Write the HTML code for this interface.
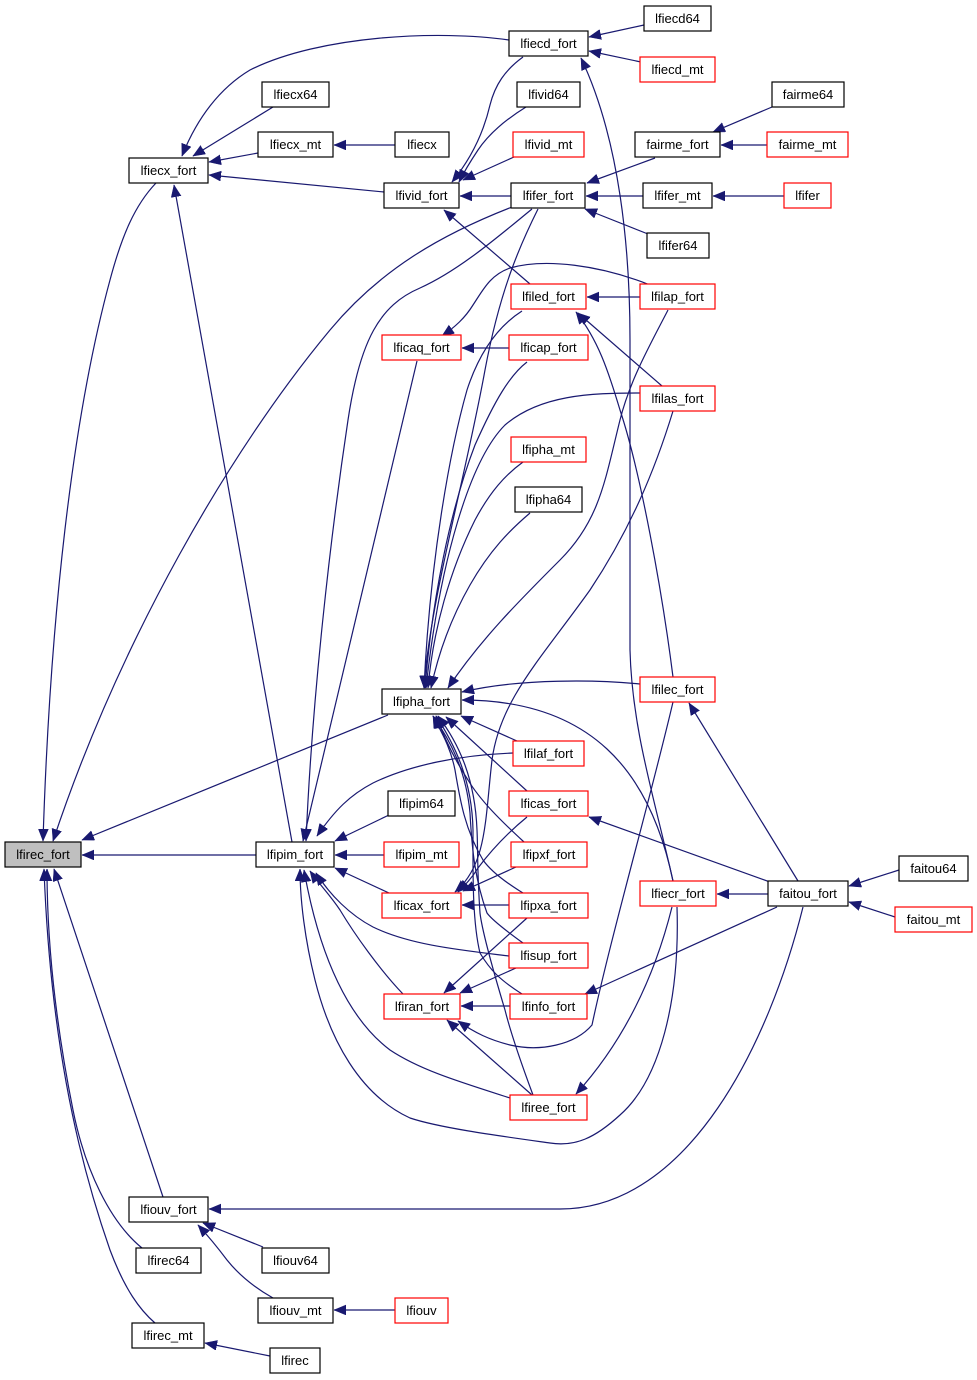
<!DOCTYPE html>
<html>
<head>
<meta charset="utf-8">
<style>
html,body{margin:0;padding:0;background:#fff;}
svg{display:block;}
text{font-family:"Liberation Sans",Arial,sans-serif;font-size:13px;fill:#000;}
.e{fill:none;stroke:#191970;stroke-width:1.2;marker-end:url(#a);}
.n{fill:#fff;stroke:#000;stroke-width:1.2;}
.r{fill:#fff;stroke:#ff0000;stroke-width:1.2;}
</style>
</head>
<body>
<svg width="977" height="1380" viewBox="0 0 977 1380" xmlns="http://www.w3.org/2000/svg">
<defs>
<marker id="a" markerUnits="userSpaceOnUse" markerWidth="14" markerHeight="12" refX="12" refY="5" orient="auto">
<path d="M0,0 L12,5 L0,10 z" fill="#191970" stroke="#191970" stroke-width="0.5"/>
</marker>
</defs>

<!-- edges -->
<path class="e" d="M509,40 C440,30 320,35 250,70 C220,88 197,118 182,156"/>
<path class="e" d="M273,107 L193,156"/>
<path class="e" d="M258,153 L209,162"/>
<path class="e" d="M395,145 L334,145"/>
<path class="e" d="M384,192 L209,175"/>
<path class="e" d="M156,183 C135,205 122,235 110,280 C72,420 50,620 43,841"/>
<path class="e" d="M512,207 C440,235 380,270 330,330 C230,450 120,640 53,841"/>
<path class="e" d="M388,715 L82,840"/>
<path class="e" d="M256,855 L82,855"/>
<path class="e" d="M163,1197 L54,869"/>
<path class="e" d="M142,1248 C110,1222 85,1170 73,1110 C55,1020 47,940 47,869"/>
<path class="e" d="M155,1323 C140,1310 125,1290 110,1250 C75,1150 50,1030 44,869"/>
<path class="e" d="M803,907 C770,1040 690,1209 560,1209 L209,1209"/>
<path class="e" d="M263,1247 L203,1223"/>
<path class="e" d="M273,1298 C250,1285 235,1270 227,1260 C218,1248 210,1238 198,1225"/>
<path class="e" d="M395,1310 L334,1310"/>
<path class="e" d="M270,1356 L205,1343"/>

<path class="e" d="M644,25 L589,37"/>
<path class="e" d="M641,62 L589,51"/>
<path class="e" d="M673,881 C655,800 632,730 630,650 L630,340 C630,250 620,140 581,58"/>
<path class="e" d="M523,57 C505,70 495,85 490,105 C483,135 470,160 452,182"/>
<path class="e" d="M526,107 C505,120 488,135 478,150 C470,162 465,170 459,182"/>
<path class="e" d="M514,157 L463,180"/>
<path class="e" d="M511,196 L460,196"/>
<path class="e" d="M530,284 L444,210"/>
<path class="e" d="M655,158 L587,183"/>
<path class="e" d="M772,107 L713,132"/>
<path class="e" d="M767,145 L721,145"/>
<path class="e" d="M643,196 L586,196"/>
<path class="e" d="M784,196 L713,196"/>
<path class="e" d="M648,234 L585,209"/>
<path class="e" d="M640,297 L587,297"/>

<path class="e" d="M532,209 C500,235 460,270 420,288 C380,305 360,340 348,420 C330,540 312,700 306,841"/>
<path class="e" d="M538,209 C520,245 500,290 485,370 C465,480 430,600 424,688"/>
<path class="e" d="M650,285 C600,265 545,258 510,268 C490,275 483,290 473,305 C465,318 455,327 442,336"/>
<path class="e" d="M509,348 L462,348"/>
<path class="e" d="M417,361 L303,841"/>
<path class="e" d="M522,311 C500,325 480,350 467,390 C450,450 430,560 424,688"/>
<path class="e" d="M527,362 C510,375 495,400 475,445 C450,510 432,600 425,688"/>
<path class="e" d="M640,393 C590,393 540,395 505,425 C470,460 440,560 426,688"/>
<path class="e" d="M523,462 C505,475 490,492 475,520 C450,570 433,630 428,688"/>
<path class="e" d="M530,513 C510,530 490,550 470,585 C450,620 438,655 431,688"/>
<path class="e" d="M668,310 C650,345 630,380 620,420 C605,480 600,520 560,560 C520,600 480,640 448,688"/>
<path class="e" d="M662,386 L578,313"/>
<path class="e" d="M673,677 C662,590 640,470 620,410 C608,370 598,340 576,312"/>
<path class="e" d="M640,684 C600,680 520,678 462,692"/>
<path class="e" d="M673,881 C650,770 590,700 462,700"/>
<path class="e" d="M673,411 C655,470 630,530 590,590 C540,660 500,700 492,760 C485,820 487,865 455,892"/>
<path class="e" d="M673,702 C650,800 610,940 592,1025 C575,1045 540,1052 510,1045 C490,1040 475,1033 458,1021"/>
<path class="e" d="M672,907 C655,975 625,1040 576,1094"/>
<path class="e" d="M677,907 C680,1000 660,1080 620,1115 C595,1138 575,1147 550,1143 C500,1136 440,1128 410,1118 C360,1095 330,1040 315,980 C305,940 300,900 300,869"/>

<path class="e" d="M770,882 L589,817"/>
<path class="e" d="M798,881 L689,703"/>
<path class="e" d="M768,894 L717,894"/>
<path class="e" d="M777,907 L585,994"/>
<path class="e" d="M899,870 L849,886"/>
<path class="e" d="M895,917 L849,902"/>

<path class="e" d="M517,741 L461,716"/>
<path class="e" d="M527,791 L446,717"/>
<path class="e" d="M524,842 C500,820 480,800 468,780 C455,760 445,740 436,716"/>
<path class="e" d="M523,893 C505,882 490,870 483,860 C465,830 460,800 455,770 C450,745 440,730 433,716"/>
<path class="e" d="M523,943 C505,930 492,920 487,913 C475,880 472,850 470,813 C466,770 450,740 433,716"/>
<path class="e" d="M522,994 C500,980 490,970 480,953 C472,920 473,870 473,830 C472,780 455,745 436,716"/>
<path class="e" d="M533,1095 C520,1060 510,1030 505,1010 C490,960 482,930 480,913 C477,870 478,850 477,830 C475,780 460,745 438,716"/>

<path class="e" d="M389,815 L335,841"/>
<path class="e" d="M384,855 L335,855"/>
<path class="e" d="M389,893 L335,868"/>
<path class="e" d="M513,753 C460,755 410,765 373,783 C350,795 335,810 317,836"/>
<path class="e" d="M509,956 C460,950 410,945 373,927 C350,915 330,895 316,873"/>
<path class="e" d="M403,994 C380,970 355,935 340,910 C330,895 320,885 310,871"/>
<path class="e" d="M510,1098 C460,1082 420,1070 390,1050 C350,1020 320,960 304,870"/>
<path class="e" d="M292,842 L174,185"/>

<path class="e" d="M527,817 C505,835 490,852 478,868 C472,878 465,885 458,892"/>
<path class="e" d="M516,867 L463,891"/>
<path class="e" d="M509,905 L462,905"/>
<path class="e" d="M527,918 L444,993"/>
<path class="e" d="M516,968 L460,993"/>
<path class="e" d="M510,1006 L461,1006"/>
<path class="e" d="M532,1095 L447,1020"/>

<!-- nodes -->
<g>
<rect x="5" y="842" width="76" height="25" fill="#bfbfbf" stroke="#000" stroke-width="1.2"/><text x="43" y="859" text-anchor="middle">lfirec_fort</text>
<rect class="n" x="129" y="158" width="79" height="25"/><text x="168.5" y="175" text-anchor="middle">lfiecx_fort</text>
<rect class="n" x="262" y="82" width="67" height="25"/><text x="295.5" y="99" text-anchor="middle">lfiecx64</text>
<rect class="n" x="258" y="132" width="75" height="25"/><text x="295.5" y="149" text-anchor="middle">lfiecx_mt</text>
<rect class="n" x="395" y="132" width="54" height="25"/><text x="422" y="149" text-anchor="middle">lfiecx</text>
<rect class="n" x="384" y="183" width="75" height="25"/><text x="421.5" y="200" text-anchor="middle">lfivid_fort</text>
<rect class="n" x="509" y="31" width="79" height="25"/><text x="548.5" y="48" text-anchor="middle">lfiecd_fort</text>
<rect class="n" x="644" y="6" width="67" height="25"/><text x="677.5" y="23" text-anchor="middle">lfiecd64</text>
<rect class="r" x="640" y="57" width="75" height="25"/><text x="677.5" y="74" text-anchor="middle">lfiecd_mt</text>
<rect class="n" x="517" y="82" width="63" height="25"/><text x="548.5" y="99" text-anchor="middle">lfivid64</text>
<rect class="r" x="513" y="132" width="71" height="25"/><text x="548.5" y="149" text-anchor="middle">lfivid_mt</text>
<rect class="n" x="772" y="82" width="72" height="25"/><text x="808" y="99" text-anchor="middle">fairme64</text>
<rect class="n" x="635" y="132" width="85" height="25"/><text x="677.5" y="149" text-anchor="middle">fairme_fort</text>
<rect class="r" x="767" y="132" width="81" height="25"/><text x="807.5" y="149" text-anchor="middle">fairme_mt</text>
<rect class="n" x="511" y="183" width="74" height="25"/><text x="548" y="200" text-anchor="middle">lfifer_fort</text>
<rect class="n" x="643" y="183" width="69" height="25"/><text x="677.5" y="200" text-anchor="middle">lfifer_mt</text>
<rect class="r" x="784" y="183" width="47" height="25"/><text x="807.5" y="200" text-anchor="middle">lfifer</text>
<rect class="n" x="647" y="233" width="62" height="25"/><text x="678" y="250" text-anchor="middle">lfifer64</text>
<rect class="r" x="511" y="284" width="75" height="25"/><text x="548.5" y="301" text-anchor="middle">lfiled_fort</text>
<rect class="r" x="640" y="284" width="75" height="25"/><text x="677.5" y="301" text-anchor="middle">lfilap_fort</text>
<rect class="r" x="382" y="335" width="79" height="25"/><text x="421.5" y="352" text-anchor="middle">lficaq_fort</text>
<rect class="r" x="509" y="335" width="79" height="25"/><text x="548.5" y="352" text-anchor="middle">lficap_fort</text>
<rect class="r" x="640" y="386" width="75" height="25"/><text x="677.5" y="403" text-anchor="middle">lfilas_fort</text>
<rect class="r" x="511" y="437" width="75" height="25"/><text x="548.5" y="454" text-anchor="middle">lfipha_mt</text>
<rect class="n" x="515" y="487" width="67" height="25"/><text x="548.5" y="504" text-anchor="middle">lfipha64</text>
<rect class="n" x="382" y="689" width="79" height="25"/><text x="421.5" y="706" text-anchor="middle">lfipha_fort</text>
<rect class="r" x="640" y="677" width="75" height="25"/><text x="677.5" y="694" text-anchor="middle">lfilec_fort</text>
<rect class="r" x="513" y="741" width="71" height="25"/><text x="548.5" y="758" text-anchor="middle">lfilaf_fort</text>
<rect class="n" x="388" y="791" width="67" height="25"/><text x="421.5" y="808" text-anchor="middle">lfipim64</text>
<rect class="r" x="509" y="791" width="79" height="25"/><text x="548.5" y="808" text-anchor="middle">lficas_fort</text>
<rect class="n" x="256" y="842" width="78" height="25"/><text x="295" y="859" text-anchor="middle">lfipim_fort</text>
<rect class="r" x="384" y="842" width="75" height="25"/><text x="421.5" y="859" text-anchor="middle">lfipim_mt</text>
<rect class="r" x="511" y="842" width="76" height="25"/><text x="549" y="859" text-anchor="middle">lfipxf_fort</text>
<rect class="r" x="382" y="893" width="79" height="25"/><text x="421.5" y="910" text-anchor="middle">lficax_fort</text>
<rect class="r" x="509" y="893" width="79" height="25"/><text x="548.5" y="910" text-anchor="middle">lfipxa_fort</text>
<rect class="r" x="640" y="881" width="76" height="25"/><text x="678" y="898" text-anchor="middle">lfiecr_fort</text>
<rect class="n" x="768" y="881" width="80" height="25"/><text x="808" y="898" text-anchor="middle">faitou_fort</text>
<rect class="n" x="899" y="856" width="69" height="25"/><text x="933.5" y="873" text-anchor="middle">faitou64</text>
<rect class="r" x="895" y="907" width="77" height="25"/><text x="933.5" y="924" text-anchor="middle">faitou_mt</text>
<rect class="r" x="509" y="943" width="79" height="25"/><text x="548.5" y="960" text-anchor="middle">lfisup_fort</text>
<rect class="r" x="384" y="994" width="76" height="25"/><text x="422" y="1011" text-anchor="middle">lfiran_fort</text>
<rect class="r" x="510" y="994" width="77" height="25"/><text x="548.5" y="1011" text-anchor="middle">lfinfo_fort</text>
<rect class="r" x="510" y="1095" width="77" height="25"/><text x="548.5" y="1112" text-anchor="middle">lfiree_fort</text>
<rect class="n" x="129" y="1197" width="79" height="25"/><text x="168.5" y="1214" text-anchor="middle">lfiouv_fort</text>
<rect class="n" x="136" y="1248" width="65" height="25"/><text x="168.5" y="1265" text-anchor="middle">lfirec64</text>
<rect class="n" x="262" y="1248" width="67" height="25"/><text x="295.5" y="1265" text-anchor="middle">lfiouv64</text>
<rect class="n" x="258" y="1298" width="75" height="25"/><text x="295.5" y="1315" text-anchor="middle">lfiouv_mt</text>
<rect class="r" x="395" y="1298" width="53" height="25"/><text x="421.5" y="1315" text-anchor="middle">lfiouv</text>
<rect class="n" x="132" y="1323" width="72" height="25"/><text x="168" y="1340" text-anchor="middle">lfirec_mt</text>
<rect class="n" x="270" y="1348" width="50" height="25"/><text x="295" y="1365" text-anchor="middle">lfirec</text>
</g>
</svg>
</body>
</html>
